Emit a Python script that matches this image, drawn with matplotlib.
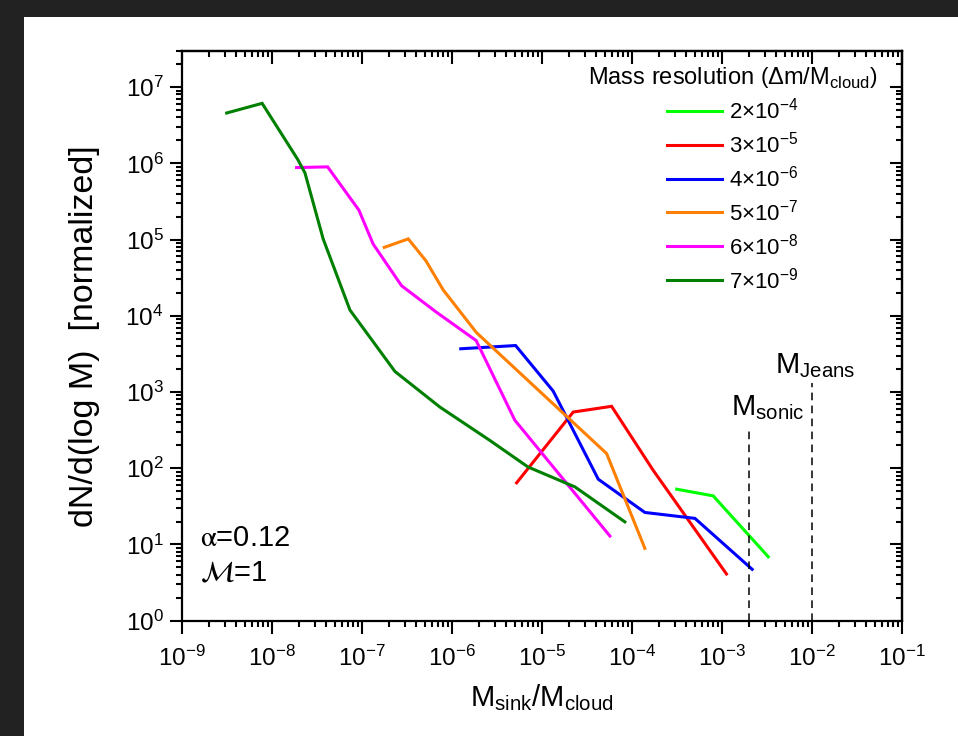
import numpy as np
import matplotlib
matplotlib.use('Agg')
import matplotlib.pyplot as plt
from matplotlib import font_manager
from matplotlib.patches import Rectangle
from matplotlib.ticker import LogLocator, NullFormatter

names = {f.name for f in font_manager.fontManager.ttflist}
NARROW = 'Liberation Sans Narrow' if 'Liberation Sans Narrow' in names else 'Liberation Sans'
REG = 'Liberation Sans'

plt.rcParams['font.family'] = [NARROW, 'DejaVu Sans']
plt.rcParams['mathtext.fontset'] = 'custom'
plt.rcParams['mathtext.rm'] = REG
plt.rcParams['mathtext.it'] = REG + ':italic'
plt.rcParams['mathtext.bf'] = REG + ':bold'
plt.rcParams['axes.unicode_minus'] = False

# ---------------- data ----------------
labels = ['2×10$^{-4}$', '3×10$^{-5}$', '4×10$^{-6}$', '5×10$^{-7}$', '6×10$^{-8}$', '7×10$^{-9}$']
colors = ['#00ff00', '#ff0000', '#0000ff', '#ff8000', '#ff00ff', '#008000']

x_2e4 = [3.16e-4, 8.05e-4, 3.29e-3]
y_2e4 = [53.1, 43.4, 6.9]

x_3e5 = [5.26e-6, 2.24e-5, 5.98e-5, 1.73e-4, 1.13e-3]
y_3e5 = [64.3, 546, 649, 94.2, 4.10]

x_4e6 = [1.26e-6, 5.13e-6, 1.34e-5, 4.25e-5, 1.40e-4, 5.04e-4, 2.18e-3]
y_4e6 = [3.69e3, 4.07e3, 1.03e3, 71.8, 26.3, 22.0, 4.72]

x_5e7 = [1.78e-7, 3.29e-7, 5.16e-7, 8.05e-7, 1.88e-6, 5.26e-5, 1.40e-4]
y_5e7 = [7.89e4, 1.02e5, 5.28e4, 2.18e4, 6.03e3, 156, 8.9]

x_6e8 = [1.89e-8, 4.18e-8, 9.31e-8, 1.34e-7, 2.77e-7, 6.79e-7, 1.87e-6, 5.04e-6, 5.73e-5]
y_6e8 = [8.79e5, 8.98e5, 2.43e5, 8.73e4, 2.48e4, 1.11e4, 4.73e3, 425, 12.9]

x_7e9 = [3.16e-9, 7.83e-9, 1.94e-8, 2.34e-8, 3.73e-8, 7.40e-8, 2.34e-7, 7.40e-7, 2.65e-6, 7.03e-6, 2.34e-5, 8.39e-5]
y_7e9 = [4.57e6, 6.12e6, 1.13e6, 7.5e5, 1.02e5, 1.19e4, 1.86e3, 634, 232, 104, 56.9, 19.8]

m_sonic = 2e-3
m_sonic_top = 3.3e2
m_jeans = 1e-2
m_jeans_top = 1.3e3

series_x = [x_2e4, x_3e5, x_4e6, x_5e7, x_6e8, x_7e9]
series_y = [y_2e4, y_3e5, y_4e6, y_5e7, y_6e8, y_7e9]

# ---------------- figure ----------------
W, H = 958, 736
fig = plt.figure(figsize=(W / 100, H / 100), dpi=100)
fig.patch.set_facecolor('#222222')
fig.add_artist(Rectangle((24 / W, 0), 1, (H - 17) / H, transform=fig.transFigure,
                         facecolor='white', edgecolor='none', zorder=-5))

ax = fig.add_axes([181.7 / W, (H - 620.7) / H, 720 / W, 570 / H])
ax.set_xscale('log')
ax.set_yscale('log')

for xs, ys, c, lab in zip(series_x, series_y, colors, labels):
    ax.plot(xs, ys, color=c, lw=2.2, label=lab, solid_joinstyle='miter')

ax.plot([m_sonic, m_sonic], [1, m_sonic_top], ls=(0, (5, 3.5)), color='black', lw=1.1)
ax.plot([m_jeans, m_jeans], [1, m_jeans_top], ls=(0, (5, 3.5)), color='black', lw=1.1)

ax.set_xlim(1e-9, 1e-1)
ax.set_ylim(1, 3e7)

for axis in (ax.xaxis, ax.yaxis):
    axis.set_major_locator(LogLocator(base=10, numticks=100))
    axis.set_minor_locator(LogLocator(base=10, subs=np.arange(2, 10), numticks=100))
    axis.set_minor_formatter(NullFormatter())

ax.tick_params(which='major', direction='out', length=9, width=1.5, labelsize=17.5)
ax.tick_params(which='minor', direction='out', length=4.5, width=1.5)
ax.tick_params(axis='x', which='major', pad=9)
ax.tick_params(axis='y', which='major', pad=4)
for s in ax.spines.values():
    s.set_linewidth(1.6)

secx = ax.secondary_xaxis('top')
secy = ax.secondary_yaxis('right')
for sec, axis in ((secx, secx.xaxis), (secy, secy.yaxis)):
    axis.set_major_locator(LogLocator(base=10, numticks=100))
    axis.set_minor_locator(LogLocator(base=10, subs=np.arange(2, 10), numticks=100))
    axis.set_major_formatter(NullFormatter())
    axis.set_minor_formatter(NullFormatter())
    sec.tick_params(which='major', direction='in', length=9, width=1.5)
    sec.tick_params(which='minor', direction='in', length=4.5, width=1.5)
    for s in sec.spines.values():
        s.set_linewidth(1.6)

ax.set_xlabel(r'$\mathrm{M}_{\mathrm{sink}}/\mathrm{M}_{\mathrm{cloud}}$', fontsize=21, labelpad=8)
ax.set_ylabel('dN/d(log M)  [normalized]', fontsize=24.5, family=REG)
ax.yaxis.set_label_coords(-0.113, 0.5)

ax.text(1.27e-3, 494, r'$\mathrm{M}_{\mathrm{sonic}}$', fontsize=21, va='baseline', ha='left')
ax.text(3.9e-3, 1750, r'$\mathrm{M}_{\mathrm{Jeans}}$', fontsize=21, va='baseline', ha='left')

ax.text(0.025, 0.131, r'$\mathrm{\alpha}$=0.12', transform=ax.transAxes, fontsize=21,
        family=REG, va='baseline', ha='left', math_fontfamily='stix')
ax.text(0.025, 0.068, r'$\mathcal{M}$=1', transform=ax.transAxes, fontsize=21,
        family=REG, va='baseline', ha='left', math_fontfamily='stix')

leg = ax.legend(title=r'Mass resolution $\left(\Delta\mathrm{m/M_{cloud}}\right)$',
                frameon=False, loc='upper center', bbox_to_anchor=(0.765, 0.995),
                fontsize=16, title_fontsize=17, handlelength=2.5, labelspacing=0.36,
                handletextpad=0.3, borderpad=0.0)
for l in leg.get_lines():
    l.set_linewidth(2.2)

fig.savefig('out.png', dpi=100, facecolor=fig.get_facecolor())
